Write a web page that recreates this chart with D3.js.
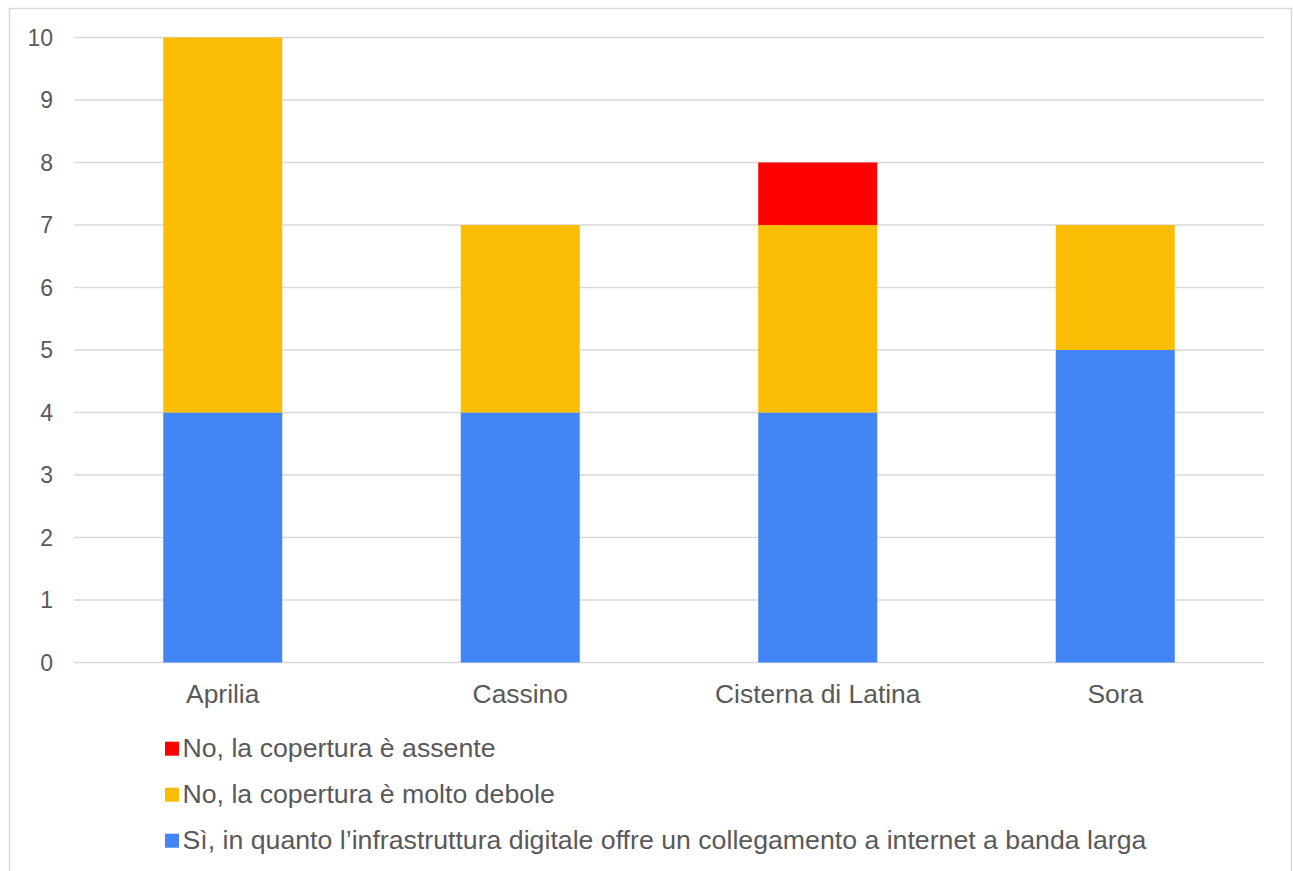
<!DOCTYPE html>
<html>
<head>
<meta charset="utf-8">
<script src="https://cdn.jsdelivr.net/npm/d3@7"></script>
<style>
  html, body { margin: 0; padding: 0; background: #fff; }
  svg { display: block; font-family: "Liberation Sans", Arial, sans-serif; }
</style>
</head>
<body>
<svg id="chart" width="1293" height="871"></svg>
<script>
// Comuni on the x axis
const categories = ["Aprilia", "Cassino", "Cisterna di Latina", "Sora"];
// Stacked series, bottom to top
const seriesNames = [
  "Sì, in quanto l’infrastruttura digitale offre un collegamento a internet a banda larga",
  "No, la copertura è molto debole",
  "No, la copertura è assente"
];
const siValues      = [4, 4, 4, 5];
const deboleValues  = [6, 3, 3, 2];
const assenteValues = [0, 0, 1, 0];
const seriesColors = ["#4285f4", "#fbbc04", "#ff0000"];
const yTicks = [0, 1, 2, 3, 4, 5, 6, 7, 8, 9, 10];

const svg = d3.select("#chart");

// outer chart frame
svg.append("rect")
  .attr("x", 9.5).attr("y", 8.5)
  .attr("width", 1282).attr("height", 872)
  .attr("fill", "#fff").attr("stroke", "#d9d9d9").attr("stroke-width", 1.5);

const plot = { left: 74, right: 1264, top: 37.5, bottom: 662.5 };

const x = d3.scaleBand()
  .domain(categories)
  .range([plot.left, plot.right])
  .paddingInner(0.6)
  .paddingOuter(0.3);

const y = d3.scaleLinear()
  .domain([0, 10])
  .range([plot.bottom, plot.top]);

// gridlines
svg.append("g")
  .selectAll("line")
  .data(yTicks)
  .join("line")
  .attr("x1", plot.left).attr("x2", plot.right)
  .attr("y1", d => y(d)).attr("y2", d => y(d))
  .attr("stroke", "#d9d9d9").attr("stroke-width", 1.5);

// y axis labels
const yAxis = d3.axisLeft(y).tickValues(yTicks).tickSize(0).tickPadding(0);
const yg = svg.append("g")
  .attr("transform", `translate(${plot.left - 21},0)`)
  .call(yAxis);
yg.attr("font-size", null).attr("font-family", null);
yg.select(".domain").remove();
yg.selectAll("text")
  .style("font-size", "23px").attr("fill", "#595959")
  .attr("dy", "0.34em");

// stacked data
const rows = categories.map((c, i) => ({
  cat: c, s0: siValues[i], s1: deboleValues[i], s2: assenteValues[i]
}));
const stack = d3.stack().keys(["s0", "s1", "s2"]);
const layers = stack(rows);

svg.append("g")
  .selectAll("g")
  .data(layers)
  .join("g")
  .attr("fill", (d, i) => seriesColors[i])
  .selectAll("rect")
  .data(d => d.filter(p => p[1] > p[0]))
  .join("rect")
  .attr("x", d => x(d.data.cat))
  .attr("width", x.bandwidth())
  .attr("y", d => y(d[1]))
  .attr("height", d => y(d[0]) - y(d[1]));

// x axis labels
const xAxis = d3.axisBottom(x).tickSize(0).tickPadding(0);
const xg = svg.append("g")
  .attr("transform", `translate(0,${plot.bottom})`)
  .call(xAxis);
xg.attr("font-size", null).attr("font-family", null);
xg.select(".domain").remove();
xg.selectAll("text")
  .style("font-size", "26.4px").attr("fill", "#595959")
  .attr("y", 40.5).attr("dy", null);

// legend, top entry is the top of the stack
const legendOrder = [2, 1, 0];
const legend = svg.append("g")
  .selectAll("g")
  .data(legendOrder)
  .join("g")
  .attr("transform", (d, i) => `translate(165,${756.7 + i * 46})`);
legend.append("rect")
  .attr("x", 0).attr("y", -15)
  .attr("width", 14).attr("height", 14)
  .attr("fill", d => seriesColors[d]);
legend.append("text")
  .attr("x", 17.5).attr("y", 0)
  .style("font-size", "26.7px").attr("fill", "#595959")
  .text(d => seriesNames[d]);
</script>
</body>
</html>
